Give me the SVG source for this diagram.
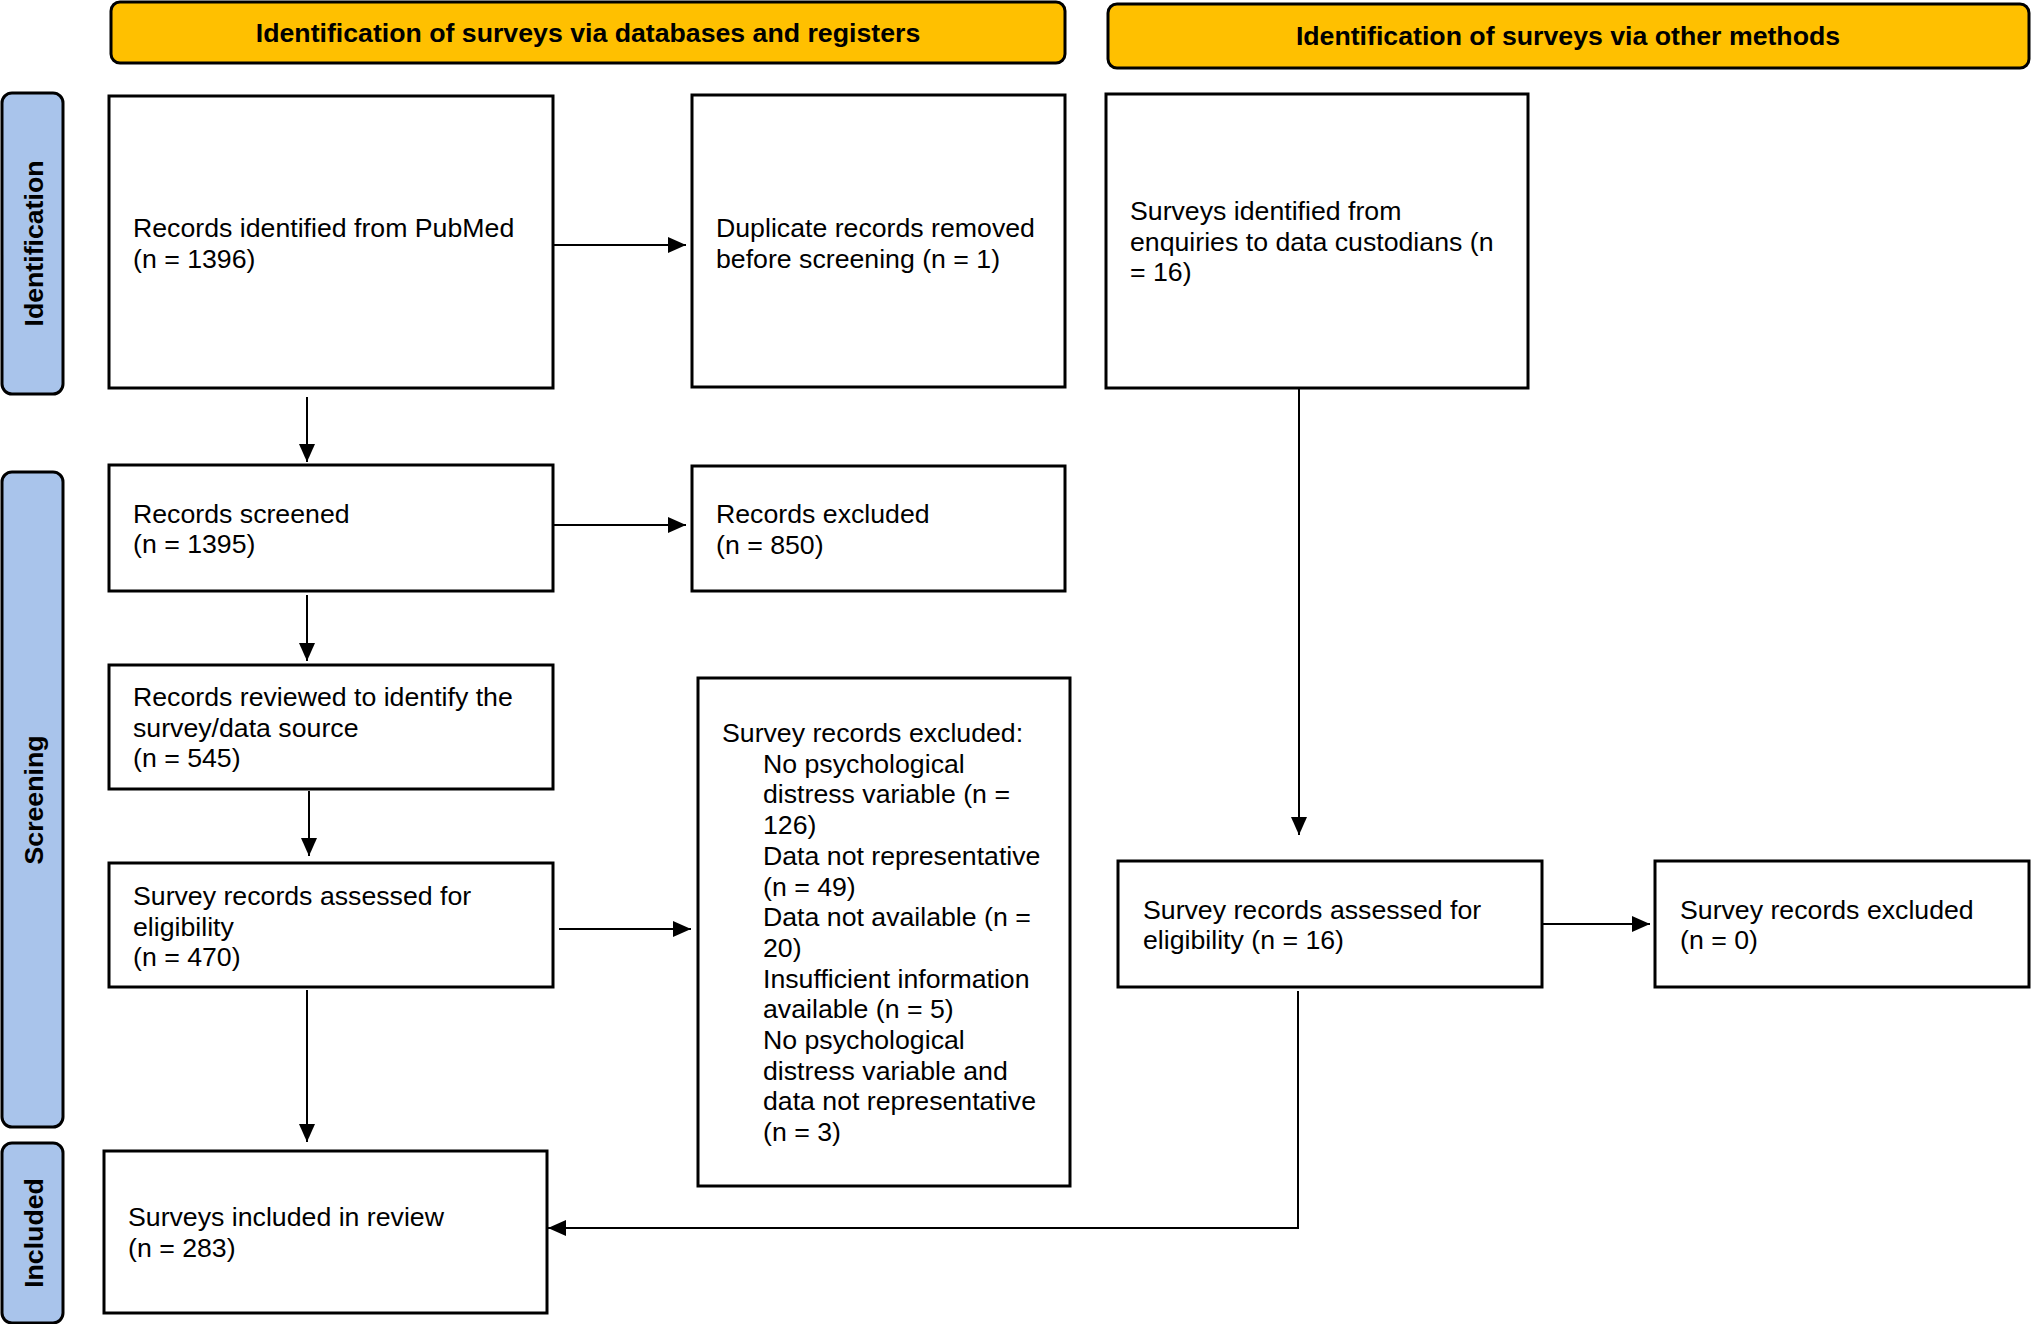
<svg xmlns="http://www.w3.org/2000/svg" width="2031" height="1324" viewBox="0 0 2031 1324">
<style>
  .box{fill:#fff;stroke:#000;stroke-width:3}
  .hdr{fill:#FFC000;stroke:#000;stroke-width:3}
  .side{fill:#A9C4EB;stroke:#000;stroke-width:3}
  .t{font-family:"Liberation Sans",Arial,sans-serif;font-size:26.7px;fill:#000}
  .hb{font-family:"Liberation Sans",Arial,sans-serif;font-size:26.7px;font-weight:bold;fill:#000;text-anchor:middle}
  .sb{font-family:"Liberation Sans",Arial,sans-serif;font-size:26.7px;font-weight:bold;fill:#000;text-anchor:middle}
  .c{fill:none;stroke:#000;stroke-width:2}
</style>
<defs>
  <marker id="ah" viewBox="0 0 18 16" refX="18" refY="8" markerWidth="18" markerHeight="16" markerUnits="userSpaceOnUse" orient="auto">
    <path d="M0,0 L18,8 L0,16 z" fill="#000"/>
  </marker>
</defs>
<rect width="2031" height="1324" fill="#fff"/>

<g id="header-databases">
  <rect class="hdr" x="111" y="2" width="954" height="61" rx="9"/>
  <text class="hb" x="588" y="42">Identification of surveys via databases and registers</text>
</g>
<g id="header-other">
  <rect class="hdr" x="1108" y="4" width="921" height="64" rx="9"/>
  <text class="hb" x="1568" y="45">Identification of surveys via other methods</text>
</g>

<g id="side-identification">
  <rect class="side" x="2" y="93" width="61" height="301" rx="10"/>
  <text class="sb" transform="translate(33,243.5) rotate(-90)" x="0" y="9.5">Identification</text>
</g>
<g id="side-screening">
  <rect class="side" x="2" y="472" width="61" height="655" rx="10"/>
  <text class="sb" transform="translate(33,800) rotate(-90)" x="0" y="9.5">Screening</text>
</g>
<g id="side-included">
  <rect class="side" x="2" y="1143" width="61" height="180" rx="10"/>
  <text class="sb" transform="translate(33,1233) rotate(-90)" x="0" y="9.5">Included</text>
</g>

<g id="n-pubmed">
  <rect class="box" x="109" y="96" width="444" height="292"/>
  <text class="t" x="133" y="237">Records identified from PubMed</text>
  <text class="t" x="133" y="267.5">(n = 1396)</text>
</g>
<g id="n-duplicates">
  <rect class="box" x="692" y="95" width="373" height="292"/>
  <text class="t" x="716" y="237">Duplicate records removed</text>
  <text class="t" x="716" y="267.5">before screening (n = 1)</text>
</g>
<g id="n-custodians">
  <rect class="box" x="1106" y="94" width="422" height="294"/>
  <text class="t" x="1130" y="220">Surveys identified from</text>
  <text class="t" x="1130" y="250.5">enquiries to data custodians (n</text>
  <text class="t" x="1130" y="281">= 16)</text>
</g>
<g id="n-screened">
  <rect class="box" x="109" y="465" width="444" height="126"/>
  <text class="t" x="133" y="522.5">Records screened</text>
  <text class="t" x="133" y="553">(n = 1395)</text>
</g>
<g id="n-excluded">
  <rect class="box" x="692" y="466" width="373" height="125"/>
  <text class="t" x="716" y="523">Records excluded</text>
  <text class="t" x="716" y="553.5">(n = 850)</text>
</g>
<g id="n-reviewed">
  <rect class="box" x="109" y="665" width="444" height="124"/>
  <text class="t" x="133" y="706">Records reviewed to identify the</text>
  <text class="t" x="133" y="736.5">survey/data source</text>
  <text class="t" x="133" y="767">(n = 545)</text>
</g>
<g id="n-assessed">
  <rect class="box" x="109" y="863" width="444" height="124"/>
  <text class="t" x="133" y="905">Survey records assessed for</text>
  <text class="t" x="133" y="935.5">eligibility</text>
  <text class="t" x="133" y="966">(n = 470)</text>
</g>
<g id="n-survey-excluded">
  <rect class="box" x="698" y="678" width="372" height="508"/>
  <text class="t" x="722" y="742">Survey records excluded:</text>
  <text class="t" x="763" y="772.7">No psychological</text>
  <text class="t" x="763" y="803.4">distress variable (n =</text>
  <text class="t" x="763" y="834.1">126)</text>
  <text class="t" x="763" y="864.8">Data not representative</text>
  <text class="t" x="763" y="895.5">(n = 49)</text>
  <text class="t" x="763" y="926.2">Data not available (n =</text>
  <text class="t" x="763" y="956.9">20)</text>
  <text class="t" x="763" y="987.6">Insufficient information</text>
  <text class="t" x="763" y="1018.3">available (n = 5)</text>
  <text class="t" x="763" y="1049">No psychological</text>
  <text class="t" x="763" y="1079.7">distress variable and</text>
  <text class="t" x="763" y="1110.4">data not representative</text>
  <text class="t" x="763" y="1141.1">(n = 3)</text>
</g>
<g id="n-included">
  <rect class="box" x="104" y="1151" width="443" height="162"/>
  <text class="t" x="128" y="1226">Surveys included in review</text>
  <text class="t" x="128" y="1256.5">(n = 283)</text>
</g>
<g id="n-assessed-other">
  <rect class="box" x="1118" y="861" width="424" height="126"/>
  <text class="t" x="1143" y="918.5">Survey records assessed for</text>
  <text class="t" x="1143" y="949">eligibility (n = 16)</text>
</g>
<g id="n-excluded-other">
  <rect class="box" x="1655" y="861" width="374" height="126"/>
  <text class="t" x="1680" y="918.5">Survey records excluded</text>
  <text class="t" x="1680" y="949">(n = 0)</text>
</g>

<g id="connectors">
  <path class="c" d="M553,245 H686" marker-end="url(#ah)"/>
  <path class="c" d="M307,397 V462" marker-end="url(#ah)"/>
  <path class="c" d="M553,525 H686" marker-end="url(#ah)"/>
  <path class="c" d="M307,595 V661" marker-end="url(#ah)"/>
  <path class="c" d="M309,791 V856" marker-end="url(#ah)"/>
  <path class="c" d="M559,929 H691" marker-end="url(#ah)"/>
  <path class="c" d="M307,990 V1142" marker-end="url(#ah)"/>
  <path class="c" d="M1299,388 V835" marker-end="url(#ah)"/>
  <path class="c" d="M1542,924 H1650" marker-end="url(#ah)"/>
  <path class="c" d="M1298,991 V1228 H548" marker-end="url(#ah)"/>
</g>
</svg>
